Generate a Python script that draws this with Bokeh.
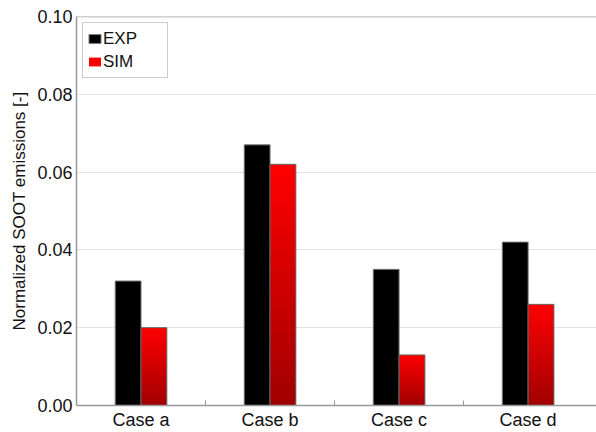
import numpy as np
from bokeh.plotting import figure
from bokeh.models import Range1d, FixedTicker, Legend, LegendItem, Span, ColumnDataSource, PrintfTickFormatter
from bokeh.embed import file_html
from bokeh.resources import INLINE

cases = ["Case a", "Case b", "Case c", "Case d"]
exp_vals = [0.032, 0.067, 0.035, 0.042]
sim_vals = [0.020, 0.062, 0.013, 0.026]
y_ticks = [0.0, 0.02, 0.04, 0.06, 0.08, 0.10]

FONT = "Liberation Sans"
n = len(cases)
centers = np.arange(n) + 0.5
bw = 0.2

p = figure(frame_width=520, frame_height=389, output_backend="svg", toolbar_location=None,
           x_range=Range1d(0, 4.03), y_range=Range1d(0, 0.1),
           min_border_left=76, min_border_right=0, min_border_top=16, min_border_bottom=26)
p.outline_line_color = None
p.background_fill_color = "white"
p.border_fill_color = "white"

# EXP bars
exp_r = p.quad(left=centers - bw, right=centers, bottom=0, top=exp_vals,
               fill_color="black", line_color="#777777", line_width=1)

# SIM bars with vertical gradient (dark red at bottom -> bright red at top)
N = 40
L, R, B, T, C = [], [], [], [], []
for i, v in enumerate(sim_vals):
    for k in range(N):
        frac = (k + 0.5) / N
        r = int(round(0xa0 + (0xff - 0xa0) * frac))
        L.append(centers[i]); R.append(centers[i] + bw)
        B.append(v * k / N); T.append(min(v, v * (k + 1.6) / N))
        C.append("#%02x0000" % r)
src = ColumnDataSource(dict(left=L, right=R, bottom=B, top=T, color=C))
sim_r = p.quad(left="left", right="right", bottom="bottom", top="top", fill_color="color",
               line_color=None, source=src)
p.quad(left=centers, right=centers + bw, bottom=0, top=sim_vals,
       fill_alpha=0, line_color="#666666", line_width=1)

# top border
p.add_layout(Span(location=0.1, dimension="width", line_color="#a0a0a0", line_width=1.5))

# grid
p.xgrid.grid_line_color = None
p.ygrid.grid_line_color = "#e2e2e2"
p.ygrid.ticker = FixedTicker(ticks=y_ticks)

# y axis
ya = p.yaxis[0]
ya.ticker = FixedTicker(ticks=y_ticks)
ya.formatter = PrintfTickFormatter(format="%.2f")
ya.axis_line_color = "#999999"
ya.axis_line_width = 1.5
ya.major_tick_in = 0
ya.major_tick_out = 0
ya.minor_tick_line_color = None
ya.major_label_text_font = FONT
ya.major_label_text_font_size = "18px"
ya.major_label_text_color = "#111111"
ya.major_label_standoff = 4
ya.axis_label = "Normalized SOOT emissions [-]"
ya.axis_label_text_font = FONT
ya.axis_label_text_font_size = "17px"
ya.axis_label_text_font_style = "normal"
ya.axis_label_text_color = "#111111"
ya.axis_label_standoff = 5

# x axis
xa = p.xaxis[0]
xa.ticker = FixedTicker(ticks=list(centers), minor_ticks=list(np.arange(1, n)))
xa.major_label_overrides = {float(c): name for c, name in zip(centers, cases)}
xa.axis_line_color = "#999999"
xa.axis_line_width = 1.5
xa.major_tick_in = 0
xa.major_tick_out = 0
xa.minor_tick_in = 5
xa.minor_tick_out = 0
xa.minor_tick_line_color = "#999999"
xa.major_label_text_font = FONT
xa.major_label_text_font_size = "18px"
xa.major_label_text_color = "#111111"
xa.major_label_standoff = 4

legend = Legend(items=[LegendItem(label="EXP", renderers=[exp_r], index=0),
                       LegendItem(label="SIM", renderers=[sim_r], index=N - 1)],
                location="top_left", margin=6, padding=4, spacing=0,
                glyph_width=15, glyph_height=11, label_height=23, label_width=60,
                label_standoff=1, label_text_font=FONT, label_text_font_size="17px",
                label_text_color="#111111", border_line_color="#999999", border_line_width=1,
                background_fill_alpha=1)
p.add_layout(legend)

open("out.html", "w").write(file_html(p, INLINE))
